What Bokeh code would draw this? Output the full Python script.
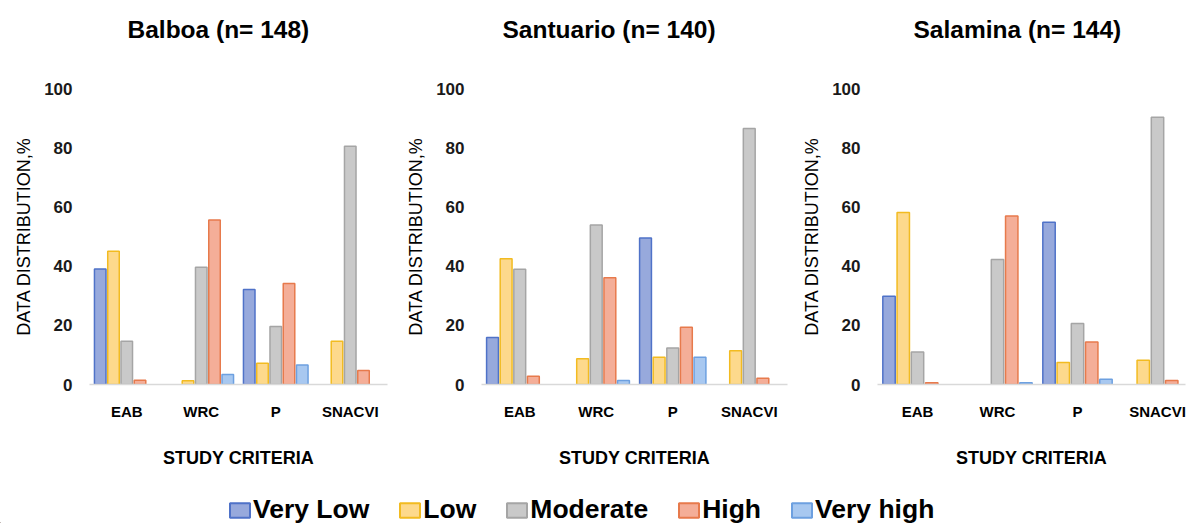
from bokeh.plotting import figure
from bokeh.layouts import column, row
from bokeh.models import Range1d, FixedTicker, Legend, LegendItem, Title
from bokeh.embed import file_html
from bokeh.resources import INLINE

categories = ["EAB", "WRC", "P", "SNACVI"]
levels = ["Very Low", "Low", "Moderate", "High", "Very high"]
y_ticks = [0, 20, 40, 60, 80, 100]
titles = ["Balboa (n= 148)", "Santuario (n= 140)", "Salamina (n= 144)"]
x_title = "STUDY CRITERIA"
y_title = "DATA DISTRIBUTION,%"

# Balboa
balboa_very_low = [39.0, 0, 32.1, 0]
balboa_low = [45.0, 1.3, 7.2, 14.6]
balboa_moderate = [14.6, 39.6, 19.6, 80.5]
balboa_high = [1.4, 55.6, 34.1, 4.7]
balboa_very_high = [0, 3.4, 6.6, 0]

# Santuario
santuario_very_low = [15.9, 0, 49.5, 0]
santuario_low = [42.5, 8.7, 9.2, 11.4]
santuario_moderate = [38.9, 53.9, 12.3, 86.5]
santuario_high = [2.8, 36.1, 19.3, 2.1]
santuario_very_high = [0, 1.35, 9.2, 0]

# Salamina
salamina_very_low = [29.8, 0, 54.8, 0]
salamina_low = [58.1, 0, 7.4, 8.2]
salamina_moderate = [11.0, 42.2, 20.6, 90.3]
salamina_high = [0.6, 56.9, 14.4, 1.35]
salamina_very_high = [0, 0.6, 1.8, 0]

fills = ["#97a9dc", "#fdd98c", "#c9c9c9", "#f4ae98", "#a8c8f0"]
lines = ["#4f72c8", "#f2bb21", "#a5a5a5", "#e77a4c", "#6da0e0"]

FONT = "Liberation Sans"


def panel(title, series, fig_width, border_left, frame_width, x_end, title_offset):
    p = figure(width=fig_width, height=480, x_range=Range1d(0, x_end),
               y_range=Range1d(0, 100), output_backend="svg",
               toolbar_location=None,
               min_border_left=border_left,
               min_border_right=fig_width - border_left - frame_width,
               min_border_top=88, min_border_bottom=96)
    # spacer between frame and title
    p.add_layout(Title(text=" ", text_font_size="1px", standoff=38), "above")
    p.add_layout(Title(text=title, text_font=FONT, text_font_size="24.5px",
                       text_font_style="bold", text_color="#000000",
                       align="left", offset=title_offset), "above")
    pitch, bw = 0.178, 0.155
    for j, vals in enumerate(series):
        xs = [i + 0.5 + (j - 2) * pitch for i, v in enumerate(vals) if v > 0]
        tops = [v for v in vals if v > 0]
        p.vbar(x=xs, top=tops, bottom=0, width=bw, fill_color=fills[j],
               line_color=lines[j], line_width=1.5)
    p.xgrid.visible = False
    p.ygrid.visible = False
    p.outline_line_color = None

    p.xaxis.ticker = FixedTicker(ticks=[i + 0.5 for i in range(len(categories))])
    p.xaxis.major_label_overrides = {i + 0.5: c for i, c in enumerate(categories)}
    p.xaxis.axis_line_color = "#d9d9d9"
    p.xaxis.axis_line_width = 1.5
    p.xaxis.major_tick_line_color = None
    p.xaxis.minor_tick_line_color = None
    p.xaxis.major_tick_out = 0
    p.xaxis.major_tick_in = 0
    p.xaxis.major_label_standoff = 18
    p.xaxis.major_label_text_font = FONT
    p.xaxis.major_label_text_font_style = "bold"
    p.xaxis.major_label_text_font_size = "15px"
    p.xaxis.major_label_text_color = "#000000"
    p.xaxis.axis_label = x_title
    p.xaxis.axis_label_text_font = FONT
    p.xaxis.axis_label_text_font_style = "bold"
    p.xaxis.axis_label_text_font_size = "18px"
    p.xaxis.axis_label_text_color = "#000000"
    p.xaxis.axis_label_standoff = 25

    p.yaxis.ticker = FixedTicker(ticks=y_ticks)
    p.yaxis.axis_line_color = None
    p.yaxis.major_tick_line_color = None
    p.yaxis.minor_tick_line_color = None
    p.yaxis.major_tick_out = 0
    p.yaxis.major_tick_in = 0
    p.yaxis.major_label_standoff = 17
    p.yaxis.major_label_text_font = FONT
    p.yaxis.major_label_text_font_style = "bold"
    p.yaxis.major_label_text_font_size = "17px"
    p.yaxis.major_label_text_color = "#1a1a1a"
    p.yaxis.axis_label = y_title
    p.yaxis.axis_label_text_font = FONT
    p.yaxis.axis_label_text_font_style = "normal"
    p.yaxis.axis_label_text_font_size = "18px"
    p.yaxis.axis_label_text_color = "#000000"
    p.yaxis.axis_label_standoff = 7
    return p


p1 = panel(titles[0], [balboa_very_low, balboa_low, balboa_moderate, balboa_high, balboa_very_high],
           400, 89, 298, 4.0, 38)
p2 = panel(titles[1], [santuario_very_low, santuario_low, santuario_moderate, santuario_high, santuario_very_high],
           396, 81, 306, 4.0, 21)
p3 = panel(titles[2], [salamina_very_low, salamina_low, salamina_moderate, salamina_high, salamina_very_high],
           390, 81, 308, 3.85, 36)

lf = figure(width=1186, height=43, x_range=Range1d(0, 1), y_range=Range1d(0, 1),
            output_backend="svg", toolbar_location=None, min_border=0,
            x_axis_location=None, y_axis_location=None)
lf.outline_line_color = None
lf.xgrid.visible = False
lf.ygrid.visible = False
items = []
for j, lvl in enumerate(levels):
    # legend swatch renderers: data placed outside the visible range
    r = lf.vbar(x=[-10], top=[-10], bottom=[-11], width=0.1, fill_color=fills[j],
                line_color=lines[j], line_width=2)
    items.append(LegendItem(label=lvl, renderers=[r]))
legend = Legend(items=items, orientation="horizontal", location=(227, -2),
                padding=0, margin=0, spacing=28, label_standoff=1,
                glyph_width=25, glyph_height=18,
                label_text_font=FONT, label_text_font_size="26.5px",
                label_text_font_style="bold", label_text_color="#000000",
                border_line_color=None, background_fill_alpha=0)
lf.add_layout(legend)

layout = column(row(p1, p2, p3), lf)
open("out.html", "w").write(file_html(layout, INLINE))
